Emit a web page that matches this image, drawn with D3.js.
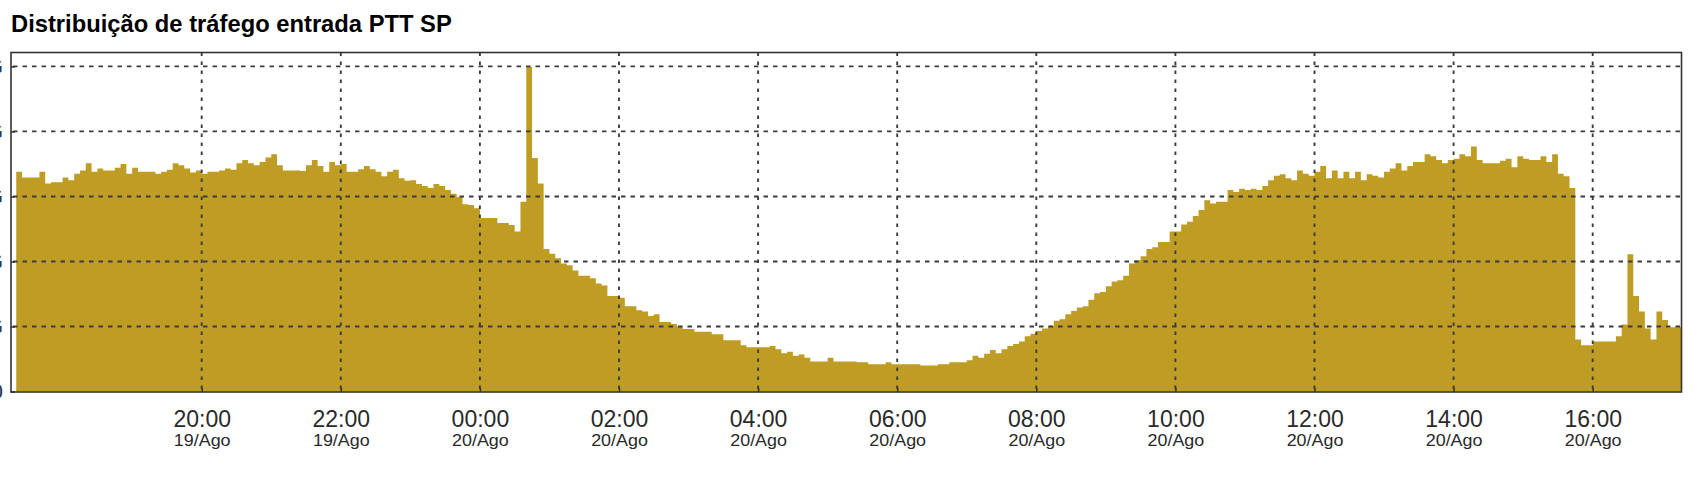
<!DOCTYPE html>
<html>
<head>
<meta charset="utf-8">
<script src="https://cdn.jsdelivr.net/npm/d3@7"></script>
<style>
  html, body { margin: 0; padding: 0; background: #ffffff; }
  svg { display: block; }
  text { font-family: "Liberation Sans", Arial, Helvetica, sans-serif; }
</style>
</head>
<body>
<svg id="chart" width="1706" height="478"></svg>
<script>
// ---------- data ----------
const chartTitle = "Distribuição de tráfego entrada PTT SP";
const seriesStart = "19/08/2000 17:20";   // first 5-minute sample
const stepMinutes = 5;
// inbound traffic, Gbit/s, one value per 5-minute step (288 steps)
const trafficGbps = [
  3.38,3.29,3.29,3.29,3.38,3.20,3.22,3.22,3.29,3.25,3.35,3.40,3.51,3.38,3.43,3.40,3.40,3.44,3.50,3.35,
  3.44,3.38,3.38,3.38,3.35,3.38,3.41,3.51,3.48,3.43,3.37,3.40,3.35,3.38,3.38,3.40,3.43,3.41,3.51,3.56,
  3.51,3.48,3.53,3.60,3.65,3.48,3.40,3.40,3.40,3.39,3.48,3.56,3.47,3.38,3.53,3.48,3.50,3.38,3.38,3.42,
  3.47,3.42,3.38,3.31,3.38,3.41,3.28,3.24,3.25,3.19,3.16,3.13,3.19,3.16,3.10,3.04,2.99,2.88,2.87,2.82,
  2.67,2.67,2.67,2.59,2.59,2.56,2.46,2.92,4.99,3.59,3.20,2.19,2.12,2.05,1.97,1.94,1.86,1.78,1.78,1.74,
  1.66,1.63,1.47,1.47,1.44,1.31,1.31,1.25,1.23,1.16,1.19,1.07,1.07,1.04,1.00,0.96,0.96,0.92,0.92,0.92,
  0.88,0.88,0.79,0.79,0.79,0.71,0.68,0.68,0.68,0.68,0.70,0.65,0.59,0.61,0.55,0.57,0.52,0.46,0.46,0.46,
  0.52,0.46,0.46,0.46,0.46,0.45,0.45,0.42,0.42,0.42,0.45,0.42,0.42,0.42,0.42,0.42,0.40,0.40,0.40,0.42,
  0.42,0.45,0.45,0.45,0.48,0.55,0.52,0.58,0.64,0.59,0.65,0.70,0.73,0.77,0.85,0.89,0.93,0.97,1.01,1.09,
  1.11,1.19,1.24,1.29,1.31,1.41,1.51,1.53,1.62,1.69,1.71,1.78,1.97,2.02,2.08,2.19,2.22,2.30,2.30,2.46,
  2.46,2.57,2.61,2.70,2.79,2.94,2.89,2.92,2.92,3.10,3.07,3.12,3.10,3.12,3.10,3.16,3.25,3.32,3.34,3.28,
  3.25,3.40,3.35,3.32,3.38,3.47,3.28,3.40,3.28,3.38,3.28,3.38,3.25,3.34,3.32,3.29,3.38,3.43,3.51,3.40,
  3.47,3.53,3.53,3.65,3.62,3.56,3.51,3.56,3.58,3.65,3.62,3.77,3.56,3.51,3.51,3.51,3.55,3.58,3.45,3.62,
  3.58,3.56,3.56,3.62,3.53,3.65,3.35,3.31,3.13,0.80,0.71,0.71,0.77,0.77,0.77,0.77,0.85,1.03,2.11,1.47,
  1.23,0.97,0.80,1.23,1.10,0.99,0.99,0.99
];
const xTickStamps = ["19/08/2000 20:00","19/08/2000 22:00","20/08/2000 00:00","20/08/2000 02:00",
  "20/08/2000 04:00","20/08/2000 06:00","20/08/2000 08:00","20/08/2000 10:00","20/08/2000 12:00",
  "20/08/2000 14:00","20/08/2000 16:00"];
const xTickTimeLabels = ["20:00","22:00","00:00","02:00","04:00","06:00","08:00","10:00","12:00","14:00","16:00"];
const xTickDateLabels = ["19/Ago","19/Ago","20/Ago","20/Ago","20/Ago","20/Ago","20/Ago","20/Ago","20/Ago","20/Ago","20/Ago"];
const yTickValues = [0, 1, 2, 3, 4, 5];
const yTickLabels = ["0", "1 G", "2 G", "3 G", "4 G", "5 G"];

// ---------- layout ----------
const frame = { left: 11, right: 1681.5, top: 52.5, bottom: 392 };
const fillColor = "#BF9C23";
const gridColor = "#3c3c3c";

const parse = d3.timeParse("%d/%m/%Y %H:%M");
const t0 = parse(seriesStart);
const points = trafficGbps.map((v, i) => ({ t: d3.timeMinute.offset(t0, i * stepMinutes), v }));
points.push({ t: d3.timeMinute.offset(t0, trafficGbps.length * stepMinutes), v: trafficGbps[trafficGbps.length - 1] });
const tickDates = xTickStamps.map(parse);

const x = d3.scaleTime()
  .domain([tickDates[0], tickDates[tickDates.length - 1]])
  .range([201.7, 1592.7]);
const y = d3.scaleLinear().domain([0, 5]).range([391.5, 66.4]);

const svg = d3.select("#chart");

// title
const title = svg.append("text")
  .attr("x", 11).attr("y", 32)
  .attr("font-weight", "bold").attr("font-size", 23).attr("fill", "#000")
  .text(chartTitle);
const tw = title.node().getComputedTextLength();
title.attr("font-size", 23 * 441 / tw);

// clip
svg.append("clipPath").attr("id", "plotclip").append("rect")
  .attr("x", frame.left).attr("y", frame.top)
  .attr("width", frame.right - frame.left).attr("height", frame.bottom - frame.top);

// area (stepped bars)
const area = d3.area()
  .x(d => x(d.t)).y0(y(0)).y1(d => y(d.v))
  .curve(d3.curveStepAfter);
svg.append("path")
  .datum(points)
  .attr("clip-path", "url(#plotclip)")
  .attr("d", area)
  .attr("fill", fillColor);

// grid
const grid = svg.append("g").attr("clip-path", "url(#plotclip)");
grid.selectAll("line.h").data(yTickValues.filter(v => v > 0)).join("line")
  .attr("class", "h")
  .attr("x1", frame.left + 2).attr("x2", frame.right)
  .attr("y1", d => y(d)).attr("y2", d => y(d))
  .attr("stroke", gridColor).attr("stroke-width", 1.9)
  .attr("stroke-dasharray", "4.5,5");
grid.selectAll("line.v").data(tickDates).join("line")
  .attr("class", "v")
  .attr("x1", d => x(d)).attr("x2", d => x(d))
  .attr("y1", frame.top).attr("y2", frame.bottom)
  .attr("stroke", gridColor).attr("stroke-width", 1.9)
  .attr("stroke-dasharray", "3.5,5.5");

// x axis (ticks)
const xAxis = d3.axisBottom(x)
  .tickValues(tickDates)
  .tickSize(-4)
  .tickPadding(18)
  .tickFormat((d, i) => xTickTimeLabels[i]);
const gx = svg.append("g").attr("transform", `translate(0,${frame.bottom})`).call(xAxis);
gx.select(".domain").remove();
gx.selectAll(".tick line").attr("stroke", "#333").attr("stroke-width", 1.5);
gx.selectAll(".tick text")
  .attr("font-size", 23).attr("fill", "#2a2a2a")
  .attr("font-family", '"Liberation Sans", Arial, sans-serif')
  .attr("dy", null).attr("y", 34.5);
gx.selectAll(".tick").append("text")
  .attr("class", "date")
  .attr("y", 54.5)
  .attr("fill", "#2a2a2a")
  .attr("font-size", 16)
  .attr("font-family", '"Liberation Sans", Arial, sans-serif')
  .attr("text-anchor", "middle")
  .attr("transform", "scale(1.12,1)")
  .text((d, i) => xTickDateLabels[i]);
// keep the scaled date labels centred on their ticks
gx.selectAll(".tick text.date").attr("x", 0);

// y axis (labels mostly cut off by the left edge, as in the source image)
const yAxis = d3.axisLeft(y)
  .tickValues(yTickValues)
  .tickSize(-4)
  .tickPadding(8)
  .tickFormat((d, i) => yTickLabels[i]);
const gy = svg.append("g").attr("transform", `translate(${frame.left},0)`).call(yAxis);
gy.select(".domain").remove();
gy.selectAll(".tick line").attr("stroke", "#333").attr("stroke-width", 1.5);
gy.selectAll(".tick text").attr("font-size", 22).attr("fill", "#2d3a4f")
  .attr("font-family", '"Liberation Sans", Arial, sans-serif');

// frame
svg.append("rect")
  .attr("x", frame.left).attr("y", frame.top)
  .attr("width", frame.right - frame.left).attr("height", frame.bottom - frame.top)
  .attr("fill", "none").attr("stroke", "#333").attr("stroke-width", 1.6);
</script>
</body>
</html>
